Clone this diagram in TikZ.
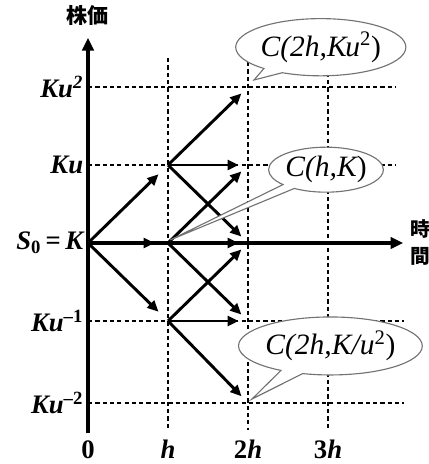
\documentclass[tikz,border=0pt]{standalone}
\usepackage{fontspec}
\setmainfont{Liberation Serif}
\newfontfamily\jpfont{Noto Sans CJK JP}
\usetikzlibrary{arrows.meta,shapes.callouts}

\begin{document}
\begin{tikzpicture}
    [x=2cm, y=1.95cm,
    axis/.style={line width=2.4pt, -{Triangle[length=9pt,width=8pt]}},
    gridline/.style={line width=0.9pt, dash pattern=on 3pt off 2.2pt},
    move/.style={line width=2.1pt, -{Triangle[length=8pt,width=7pt]}},
    first/.style={move, shorten >=0.33cm},
    second/.style={move, shorten >=0.23cm},
    level/.style={anchor=east, inner sep=1pt, font=\fontsize{19}{21}\selectfont\bfseries\itshape},
    tick/.style={font=\fontsize{19}{21}\selectfont\bfseries},
    bubble/.style={ellipse callout, draw=black!55, line width=0.8pt, fill=white,
        inner sep=0pt, font=\fontsize{21}{23}\selectfont\itshape}]
        \useasboundingbox (-2.2cm,-5.525cm) rectangle (8.5cm,6.075cm);

        %% grid points
        \coordinate (O) at (0,0);
        \coordinate (U1) at (1,1);
        \coordinate (M1) at (1,0);
        \coordinate (D1) at (1,-1);
        \coordinate (UU2) at (2,2);
        \coordinate (U2) at (2,1);
        \coordinate (M2) at (2,0);
        \coordinate (D2) at (2,-1);
        \coordinate (DD2) at (2,-2.05);

        %% dashed grid
        \draw[gridline] (0,2) -- (3.85,2);
        \draw[gridline] (0,1) -- (3.85,1);
        \draw[gridline] (0,-1) -- (3.95,-1);
        \draw[gridline] (0,-2.05) -- (3.95,-2.05);
        \draw[gridline] (1,2.37) -- (1,-2.4);
        \draw[gridline] (2,2.32) -- (2,-2.4);
        \draw[gridline] (3,2.37) -- (3,-2.4);

        %% axes
        \coordinate (Ybot) at (0,-2.44);
        \coordinate (Ytop) at (0,2.63);
        \coordinate (Xend) at (3.94,0);
        \draw[axis] (Ybot) -- (Ytop);
        \draw[axis] (O) -- (Xend);
        \node[font=\fontsize{15}{17}\selectfont\jpfont\bfseries] (price) at (0,2.92) {株価};
        \node[font=\fontsize{14}{19}\selectfont\jpfont\bfseries, align=center, inner sep=0pt] (time) at (4.15,0.01) {時\\間};

        %% level labels
        \node[level] (L2) at (-0.04,2) {Ku\textsuperscript{2}};
        \node[level] (L1) at (-0.04,1) {Ku};
        \node[level] (L0) at (-0.04,0) {S\textsubscript{\upshape 0}\,{\upshape =}\,K};
        \node[level] (Lm1) at (-0.04,-1) {Ku\textsuperscript{\upshape --1}};
        \node[level] (Lm2) at (-0.04,-2.05) {Ku\textsuperscript{\upshape --2}};

        %% time labels
        \node[tick] (T0) at (0,-2.65) {0};
        \node[tick] (T1) at (1,-2.65) {\itshape h};
        \node[tick] (T2) at (2,-2.65) {2\itshape h};
        \node[tick] (T3) at (3,-2.65) {3\itshape h};

        %% tree
        \draw[first] (O) to (U1);
        \draw[first] (O) to (M1);
        \draw[first] (O) to (D1);
        \draw[second] (U1) to (UU2);
        \draw[second] (U1) to (U2);
        \draw[second] (U1) to (M2);
        \draw[second] (M1) to (U2);
        \draw[second] (M1) to (M2);
        \draw[second] (M1) to (D2);
        \draw[second] (D1) to (M2);
        \draw[second] (D1) to (D2);
        \draw[second] (D1) to (DD2);

        %% callouts
        \node[bubble, minimum width=2.875cm, minimum height=1.43cm,
            callout absolute pointer={(2.075,2.09)}] (cUU) at (2.91,2.51)
            {C(2h,K\kern-1pt u\textsuperscript{\upshape 2}\upshape)};
        \node[bubble, minimum width=2.675cm, minimum height=1.125cm,
            callout absolute pointer={(1.03,0.04)}] (cM) at (2.975,0.94)
            {C(h,K\upshape)};
        \node[bubble, minimum width=3.3cm, minimum height=1.45cm,
            callout absolute pointer={(2.05,-2.0)}] (cDD) at (3.03,-1.32)
            {C(2h,K/u\textsuperscript{\upshape 2}\upshape)};
    \end{tikzpicture}
\end{document}
